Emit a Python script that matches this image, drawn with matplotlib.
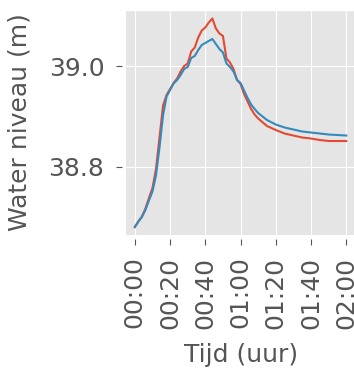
import matplotlib
matplotlib.use("Agg")
import matplotlib.pyplot as plt
from matplotlib.ticker import FuncFormatter, MultipleLocator

plt.style.use("ggplot")

# time in minutes since start
minutes = [0, 2, 4, 6, 8, 10, 12, 14, 16, 18, 20, 22, 24, 26, 28, 30, 32, 34, 36,
           38, 40, 42, 44, 46, 48, 50, 52, 54, 56, 58, 60, 62, 64, 66, 68, 70,
           75, 80, 85, 90, 95, 100, 105, 110, 115, 120]

level_red = [38.679, 38.690, 38.700, 38.716, 38.737, 38.757, 38.795, 38.858, 38.922,
             38.943, 38.955, 38.967, 38.976, 38.990, 39.001, 39.006, 39.030, 39.038,
             39.058, 39.072, 39.078, 39.088, 39.096, 39.076, 39.066, 39.061, 39.016,
             39.008, 38.995, 38.973, 38.965, 38.945, 38.930, 38.915, 38.904, 38.896,
             38.881, 38.873, 38.866, 38.862, 38.858, 38.856, 38.853, 38.851, 38.851,
             38.851]

level_blue = [38.679, 38.690, 38.699, 38.713, 38.732, 38.750, 38.782, 38.838, 38.902,
              38.940, 38.953, 38.966, 38.973, 38.983, 38.995, 38.999, 39.017, 39.021,
              39.033, 39.043, 39.047, 39.051, 39.055, 39.045, 39.035, 39.028, 39.006,
              38.999, 38.990, 38.973, 38.967, 38.952, 38.937, 38.924, 38.915, 38.907,
              38.893, 38.884, 38.878, 38.874, 38.870, 38.868, 38.866, 38.864, 38.863,
              38.862]


def hhmm(x, pos):
    m = int(round(x))
    return f"{m // 60:02d}:{m % 60:02d}"


fig = plt.figure(figsize=(3.54, 3.69), dpi=100)
ax = fig.add_axes([0.356, 0.363, 0.652, 0.610])

ax.plot(minutes, level_red, color="#E24A33", lw=1.5)
ax.plot(minutes, level_blue, color="#348ABD", lw=1.5)

ax.set_xlim(-5, 126)
ax.set_ylim(38.663, 39.113)
ax.xaxis.set_major_locator(MultipleLocator(20))
ax.xaxis.set_major_formatter(FuncFormatter(hhmm))
ax.yaxis.set_major_locator(MultipleLocator(0.2))
ax.yaxis.set_major_formatter(FuncFormatter(lambda v, p: f"{v:.1f}"))

# ticks sit a little away from the plot area
for side in ["left", "bottom"]:
    ax.spines[side].set_position(("outward", 3))
    ax.spines[side].set_visible(False)

ax.tick_params(axis="both", labelsize=18, colors="#555555", length=4.5, pad=8)
for lbl in ax.get_xticklabels():
    lbl.set_rotation(90)

ax.set_ylabel("Water niveau (m)", fontsize=18, color="#555555")
ax.set_xlabel("Tijd (uur)", fontsize=18, color="#555555")
ax.yaxis.set_label_coords(-0.41, 0.5)
ax.xaxis.set_label_coords(0.5, -0.48)

fig.savefig("out.png", dpi=100)
